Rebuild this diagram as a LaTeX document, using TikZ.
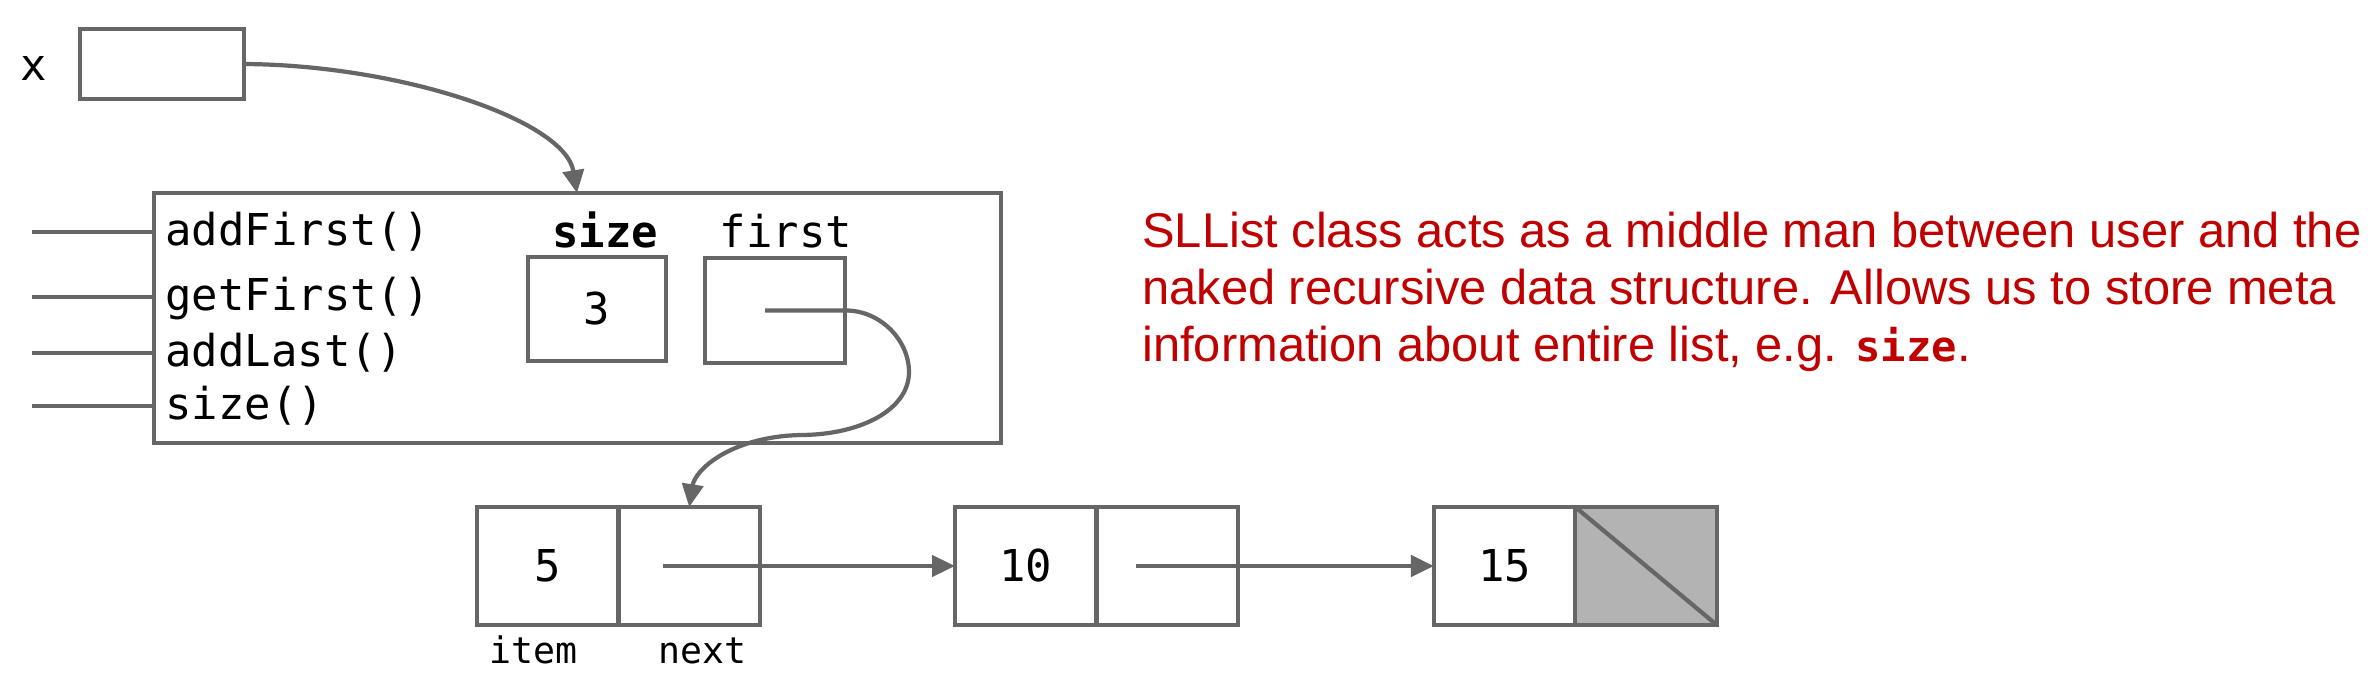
\documentclass[tikz,border=0pt]{standalone}
\usepackage{fontspec}
\setmainfont{Liberation Sans}
\setmonofont{DejaVu Sans Mono}
\usetikzlibrary{arrows.meta,positioning}
\definecolor{linegray}{HTML}{666666}
\definecolor{notered}{HTML}{C00000}
\definecolor{nullgray}{HTML}{B3B3B3}
\newcommand{\listfont}{\fontsize{25}{30}\selectfont\ttfamily}
\tikzset{
  wire/.style={draw=linegray, line width=2.4pt},
  box/.style={wire, rectangle, inner sep=0pt, outer sep=0pt, font=\listfont},
  cell/.style={box, minimum width=2.83cm, minimum height=2.36cm},
  ptr/.style={wire, -{Triangle[length=13pt,width=12pt]}},
  code/.style={font=\listfont, inner sep=0pt},
  codebold/.style={font=\listfont\bfseries, inner sep=0pt},
  tag/.style={font=\fontsize{20.8}{26}\selectfont\ttfamily, inner sep=0pt},
  note/.style={font=\fontsize{27.8}{32.4}\selectfont, text=notered, align=left, inner sep=0pt}
}

\begin{document}
\begin{tikzpicture}[x=0.02cm, y=-0.02cm]
    \useasboundingbox (0,0) rectangle (2371,693);
    % Variable x
    \node[code, anchor=base] (xname) at (34,80) {x};
    \node[box, minimum width=3.28cm, minimum height=1.4cm] (xbox) at (162,64) {};
    % SLList object
    \node[box, minimum width=16.94cm, minimum height=5cm] (obj) at (577.5,318) {};
    \foreach \y/\m [count=\i] in {232/addFirst(), 297/getFirst(), 353/addLast(), 406/size()} {
      \node[code, anchor=base west] (meth\i) at (165,\y+13) {\m};
      \coordinate (stub\i) at (32,\y);
      \draw[wire] (stub\i) -- (stub\i -| obj.west);
    }
    % Fields
    \node[box, minimum width=2.76cm, minimum height=2.08cm] (sizebox) at (597,309) {3};
    \node[box, minimum width=2.8cm, minimum height=2.1cm] (firstbox) at (775,310.5) {};
    \node[codebold, anchor=base] (sizename) at (605,247) {size};
    \node[code, anchor=base] (firstname) at (786,247) {first};
    % Nodes
    \node[cell] (n1item) at (547.75,566) {5};
    \node[cell, right=0pt of n1item] (n1next) {};
    \node[cell, right=3.9cm of n1next] (n2item) {10};
    \node[cell, right=0pt of n2item] (n2next) {};
    \node[cell, right=3.92cm of n2next] (n3item) {15};
    \node[cell, fill=nullgray, right=0pt of n3item] (n3next) {};
    \draw[wire] (n3next.north west) -- (n3next.south east);
    \node[tag, anchor=base] (itemname) at (533,663) {item};
    \node[tag, anchor=base] (nextname) at (702,663) {next};
    % Pointers
    \coordinate (objtop) at (577,193);
    \draw[ptr] (xbox.east) .. controls (400,65) and (565,120) .. (objtop);
    \draw[ptr] ([xshift=-0.2cm]firstbox.center) -- (firstbox.east)
      .. controls (880,310) and (909,340) .. (909,372)
      .. controls (909,410) and (860,435) .. (800,435)
      .. controls (730,437) and (695,470) .. (n1next.north);
    \draw[ptr] ([xshift=-0.52cm]n1next.center) -- (n2item.west);
    \draw[ptr] ([xshift=-0.62cm]n2next.center) -- (n3item.west);
    % Note
    \node[note, anchor=north west] (note) at (1142,212) {SLList class acts as a middle man between user and the\\
      naked recursive data structure. Allows us to store meta\\
      information about entire list, e.g. {\fontsize{24}{30}\selectfont\ttfamily\bfseries size}.};
\end{tikzpicture}
\end{document}
